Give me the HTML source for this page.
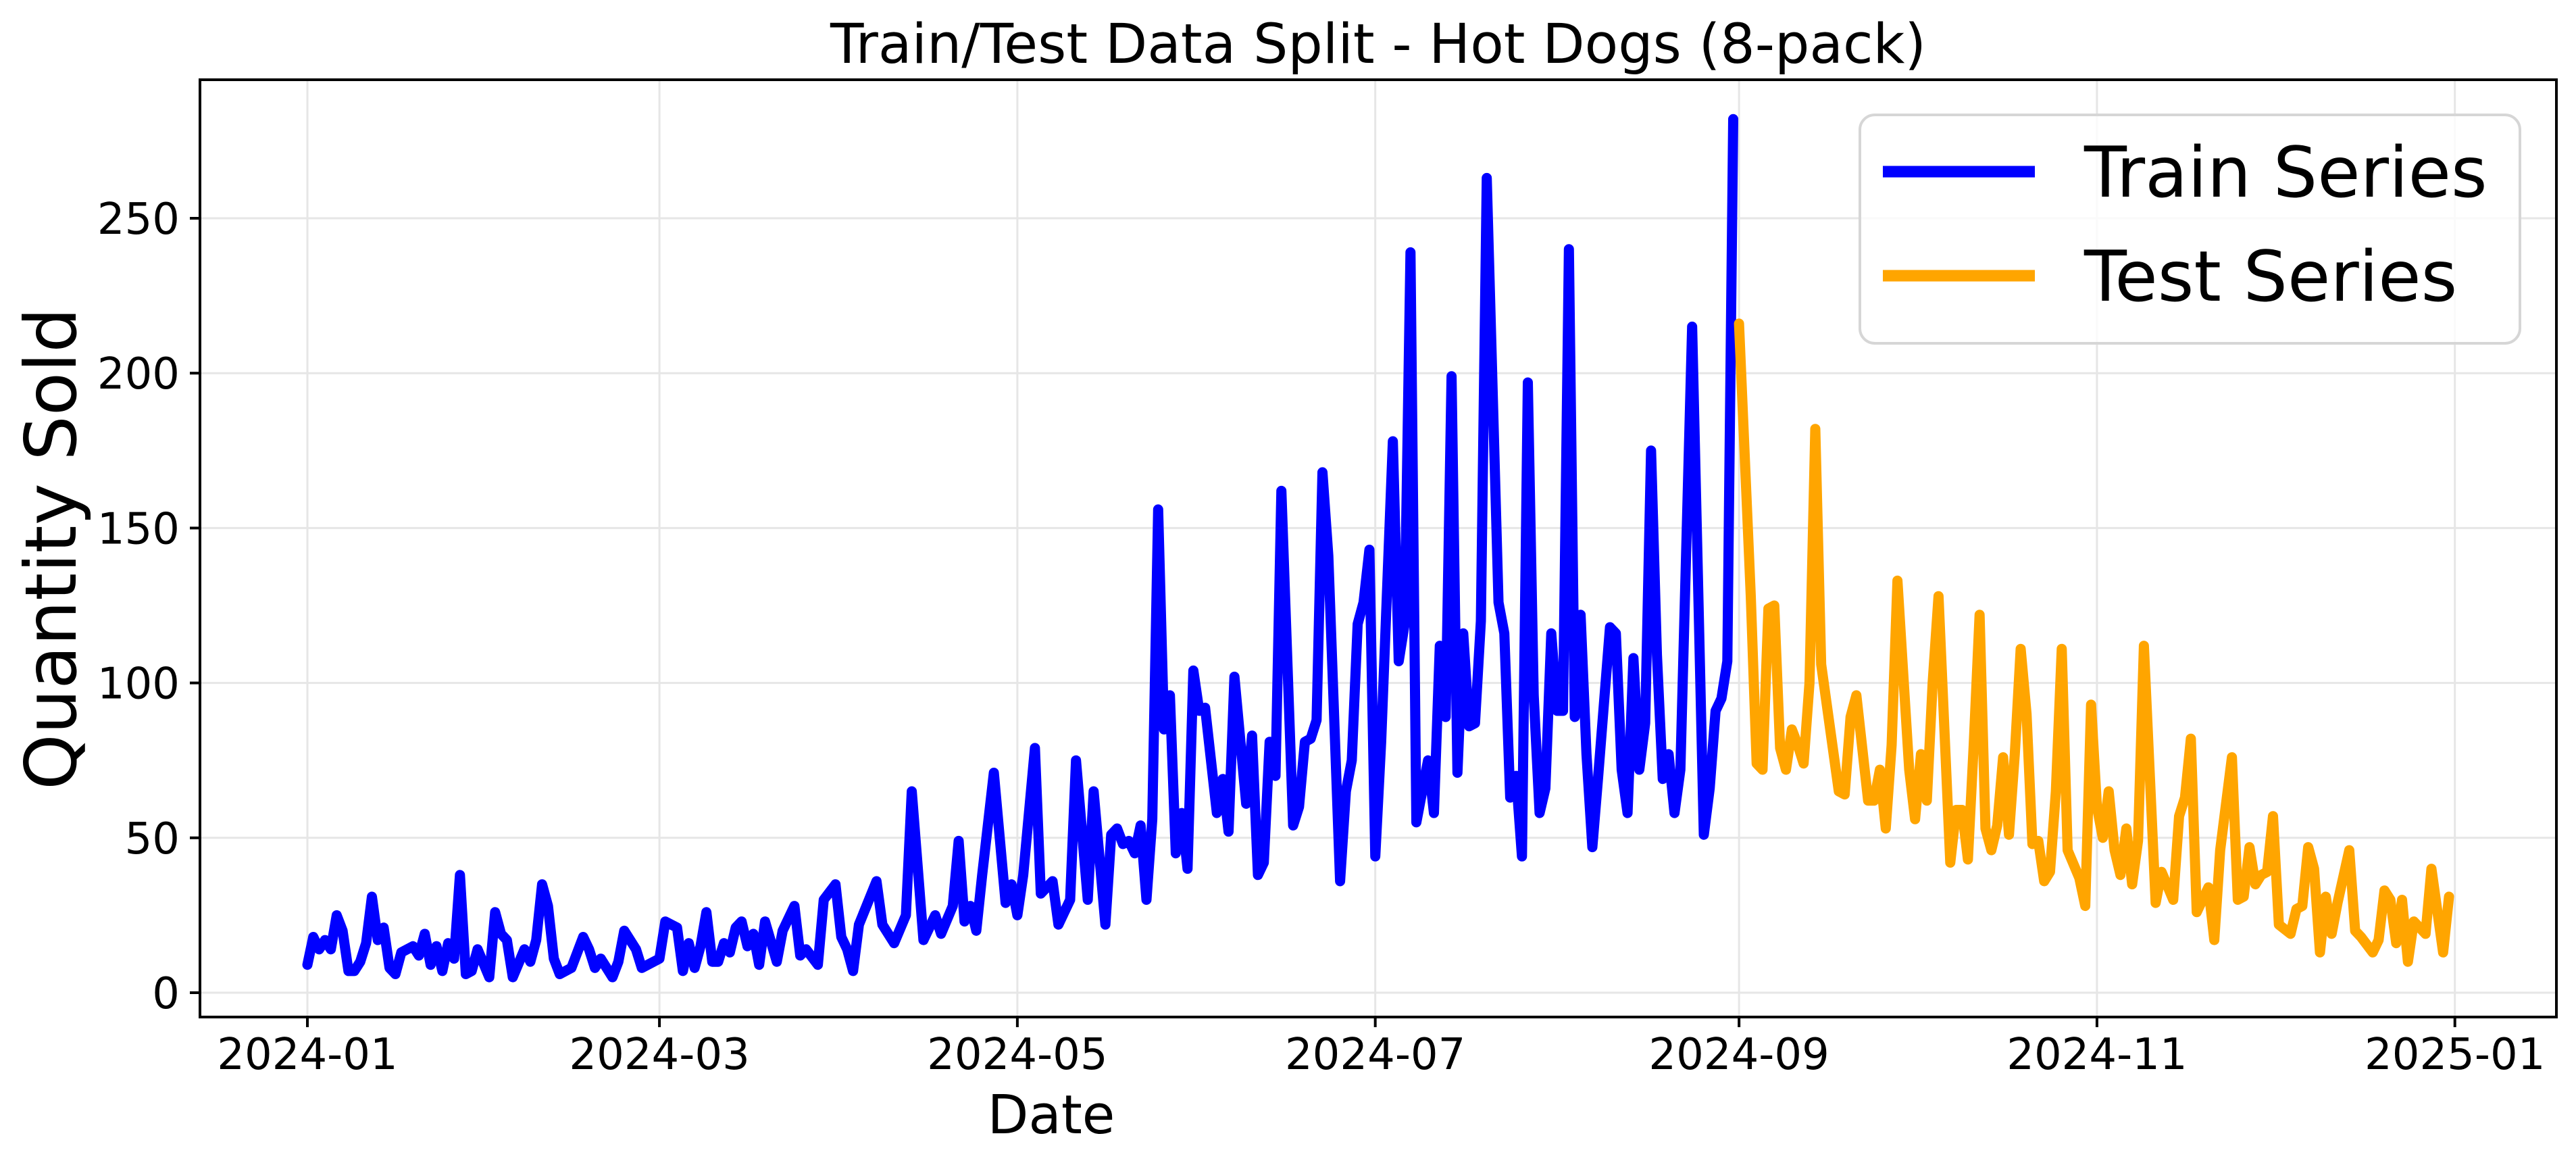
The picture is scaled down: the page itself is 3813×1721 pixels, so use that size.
<!DOCTYPE html>
<html><head><meta charset="utf-8"><title>Train/Test Data Split - Hot Dogs (8-pack)</title>
<style>
html,body{margin:0;padding:0;background:#fff;}
svg{display:block;font-family:"DejaVu Sans","Liberation Sans",sans-serif;}
</style></head>
<body>
<svg id="chart" width="3813" height="1721" viewBox="0 0 3813 1721" xmlns="http://www.w3.org/2000/svg">
<rect width="3813" height="1721" fill="#fff"/>
<g id="grid"></g>
<g id="series"></g>
<rect x="296" y="118" width="3488" height="1387" fill="none" stroke="#000" stroke-width="4"/>
<g id="ticks"></g>
<text x="2040" y="93" font-size="81" text-anchor="middle">Train/Test Data Split - Hot Dogs (8-pack)</text>
<text x="1556" y="1677" font-size="79" text-anchor="middle">Date</text>
<text transform="translate(112,812) rotate(-90)" font-size="105" text-anchor="middle">Quantity Sold</text>
<g>
<rect x="2753" y="170" width="977" height="338" rx="22" fill="#fff" fill-opacity="0.8" stroke="#d6d6d6" stroke-width="4"/>
<line x1="2787" y1="254" x2="3012" y2="254" stroke="#0000ff" stroke-width="17"/>
<text x="3085" y="291" font-size="103">Train Series</text>
<line x1="2787" y1="408" x2="3012" y2="408" stroke="#ffa500" stroke-width="17"/>
<text x="3085" y="445" font-size="103">Test Series</text>
</g>
</svg>
<script>
const trainDays = [0,1,2,3,4,5,6,7,8,9,10,11,12,13,14,15,16,18,19,20,21,22,23,24,25,26,27,28,29,31,32,33,34,35,37,38,39,40,41,42,43,45,47,48,49,50,52,53,54,56,57,60,61,63,64,65,66,67,68,69,70,71,72,73,74,75,76,77,78,80,81,83,84,85,87,88,90,91,92,93,94,97,98,100,102,103,105,107,108,110,111,112,113,114,115,117,119,120,121,122,124,125,127,128,130,131,133,134,136,137,138,139,140,141,142,143,144,145,146,147,148,149,150,151,152,153,155,156,157,158,160,161,162,163,164,165,166,168,169,170,171,172,173,174,176,177,178,179,180,181,182,183,185,186,187,188,189,191,192,193,194,195,196,197,198,199,200,201,203,204,205,206,207,208,209,210,211,212,213,214,215,216,217,218,219,220,222,223,224,225,226,227,228,229,230,231,232,233,234,236,237,238,239,240,241,242,243];
const trainValues = [9,18,14,17,14,25,20,7,7,10,16,31,17,21,8,6,13,15,12,19,9,15,7,16,11,38,6,7,14,5,26,19,17,5,14,10,17,35,28,11,6,8,18,14,8,11,5,10,20,14,8,11,23,21,7,16,8,15,26,10,10,16,13,21,23,15,19,9,23,10,20,28,12,14,9,30,35,18,14,7,22,36,22,16,25,65,17,25,19,28,49,23,28,20,38,71,29,35,25,38,79,32,36,22,30,75,30,65,22,51,53,48,49,45,54,30,56,156,85,96,45,58,40,104,91,92,58,69,52,102,61,83,38,42,81,70,162,54,60,81,82,88,168,141,36,65,75,119,126,143,44,81,178,107,119,239,55,75,58,112,89,199,71,116,86,87,120,263,126,116,63,70,44,197,96,58,66,116,91,91,240,89,122,77,47,70,118,116,72,58,108,72,87,175,109,69,77,58,72,215,134,51,66,91,95,107,282];
const testDays = [244,246,247,248,249,250,251,252,253,254,255,256,257,258,261,262,263,264,266,267,268,269,270,271,273,274,275,276,277,278,280,281,282,283,284,285,286,287,288,289,290,291,292,293,294,295,296,297,298,299,300,302,303,304,305,306,307,308,309,310,311,312,313,315,316,318,319,320,321,322,324,325,326,328,329,330,331,332,333,334,335,336,338,339,340,341,342,343,344,345,346,348,349,350,352,353,354,355,356,357,358,359,361,362,364,365];
const testValues = [216,128,74,72,124,125,79,72,85,80,74,100,182,106,65,64,89,96,62,62,72,53,80,133,72,56,77,62,100,128,42,59,59,43,80,122,53,46,54,76,51,77,111,90,48,49,36,39,65,111,46,37,28,93,60,50,65,46,38,53,35,49,112,29,39,30,57,63,82,26,34,17,46,76,30,31,47,35,38,39,57,22,19,27,28,47,40,13,31,19,29,46,20,18,13,17,33,30,16,30,10,23,19,40,13,31];
const yTicks = [0,50,100,150,200,250];
const xTickDays = [0,60,121,182,244,305,366];
const xTickLabels = ["2024-01","2024-03","2024-05","2024-07","2024-09","2024-11","2025-01"];

const NS = "http://www.w3.org/2000/svg";
const L = 296, R = 3784, T = 118, B = 1505;
function xs(d){ return 455 + d * 8.685; }
function ys(v){ return 1469 - v * 4.584; }
function mk(tag, attrs, parent){
  const e = document.createElementNS(NS, tag);
  for (const k in attrs) e.setAttribute(k, attrs[k]);
  parent.appendChild(e);
  return e;
}
const grid = document.getElementById('grid');
const ticks = document.getElementById('ticks');
const series = document.getElementById('series');

yTicks.forEach(v => {
  const y = ys(v);
  const g = mk('line', {x1:L, x2:R, y1:y, y2:y, stroke:'#e6e6e6', 'stroke-width':3}, grid);
  
  
  const t = mk('line', {x1:L-15, x2:L, y1:y, y2:y, stroke:'#000', 'stroke-width':4}, ticks);
  
  
  const lb = mk('text', {x:L-30, y:y+23, 'font-size':64, 'text-anchor':'end'}, ticks);
  lb.textContent = String(v);
  
  
});
xTickDays.forEach((d, i) => {
  const x = xs(d);
  const g = mk('line', {x1:x, x2:x, y1:T, y2:B, stroke:'#e6e6e6', 'stroke-width':3}, grid);
  
  
  const t = mk('line', {x1:x, x2:x, y1:B, y2:B+15, stroke:'#000', 'stroke-width':4}, ticks);
  
  
  const lb = mk('text', {x:x, y:1582, 'font-size':64, 'text-anchor':'middle'}, ticks);
  lb.textContent = xTickLabels[i];
  
  
});
function pathOf(days, vals){
  return days.map((d, i) => (i ? 'L' : 'M') + xs(d).toFixed(1) + ',' + ys(vals[i]).toFixed(1)).join(' ');
}
const cp = mk('clipPath', {id:'plotclip'}, document.getElementById('chart'));
mk('rect', {x:L, y:T, width:R-L, height:B-T}, cp);
const p1 = mk('path', {d:pathOf(trainDays, trainValues), fill:'none', stroke:'#0000ff', 'stroke-width':15, 'stroke-linejoin':'round', 'stroke-linecap':'round', 'clip-path':'url(#plotclip)'}, series);


const p2 = mk('path', {d:pathOf(testDays, testValues), fill:'none', stroke:'#ffa500', 'stroke-width':15, 'stroke-linejoin':'round', 'stroke-linecap':'round', 'clip-path':'url(#plotclip)'}, series);


</script>
</body></html>
